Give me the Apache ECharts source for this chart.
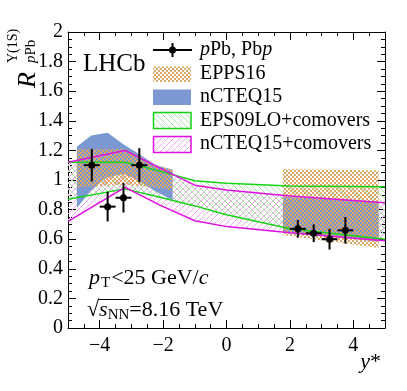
<!DOCTYPE html>
<html>
<head>
<meta charset="utf-8">
<script src="https://cdn.jsdelivr.net/npm/echarts@6/dist/echarts.min.js"></script>
<style>
html, body { margin: 0; padding: 0; background: #fff; }
#main { width: 407px; height: 391px; }
</style>
</head>
<body>
<div id="main"></div>
<script>
// LHCb points: y* bin centre, R_pPb, total error
var dataX = [-4.25, -3.75, -3.25, -2.75, 2.25, 2.75, 3.25, 3.75];
var dataY = [1.10, 0.82, 0.88, 1.10, 0.67, 0.64, 0.60, 0.66];
var dataErr = [0.11, 0.10, 0.10, 0.115, 0.06, 0.06, 0.07, 0.09];
var binHalf = 0.25;

// EPPS16 band
var eppsBwdX = [-4.72, -3.22, -2.75, -2.22, -1.70];
var eppsBwdHi = [1.21, 1.21, 1.16, 1.10, 1.07];
var eppsBwdLo = [0.95, 0.97, 0.96, 0.95, 0.93];
var eppsFwdX = [1.78, 4.80];
var eppsFwdHi = [1.075, 1.065];
var eppsFwdLo = [0.628, 0.54];

// nCTEQ15 band
var ncteqBwdX = [-4.72, -4.27, -3.75, -3.22, -2.80, -2.22, -1.70];
var ncteqBwdHi = [1.225, 1.30, 1.32, 1.236, 1.18, 1.10, 1.07];
var ncteqBwdLo = [0.81, 0.93, 1.02, 1.04, 1.0, 0.92, 0.865];
var ncteqFwdX = [1.78, 4.80];
var ncteqFwdHi = [0.887, 0.853];
var ncteqFwdLo = [0.65, 0.583];

// comover bands
var comX = [-5, -3.2, -2.1, -1.0, 0, 2, 5];
var eps09Hi = [1.12, 1.12, 1.06, 0.995, 0.978, 0.96, 0.955];
var eps09Lo = [0.87, 0.94, 0.883, 0.825, 0.765, 0.67, 0.60];
var ncteqComHi = [1.12, 1.20, 1.08, 0.965, 0.932, 0.892, 0.847];
var ncteqComLo = [0.72, 0.95, 0.83, 0.725, 0.685, 0.644, 0.59];

var xMajor = [-4, -2, 0, 2, 4];

var FONT = 'Liberation Serif';
var BLUE = '#7b98d2';
var GREEN = '#14d314';
var MAGENTA = '#e010e0';

function hatch(color, slash) {
  var c = document.createElement('canvas');
  c.width = 6; c.height = 6;
  var g = c.getContext('2d');
  g.strokeStyle = color;
  g.lineWidth = 1;
  g.beginPath();
  if (slash) {
    g.moveTo(0, 6); g.lineTo(6, 0);
    g.moveTo(-1, 1); g.lineTo(1, -1);
    g.moveTo(5, 7); g.lineTo(7, 5);
  } else {
    g.moveTo(0, 0); g.lineTo(6, 6);
    g.moveTo(-1, 5); g.lineTo(1, 7);
    g.moveTo(5, -1); g.lineTo(7, 1);
  }
  g.stroke();
  return c;
}

function checker(color) {
  var c = document.createElement('canvas');
  c.width = 4; c.height = 4;
  var g = c.getContext('2d');
  g.fillStyle = color;
  g.fillRect(0, 0, 2, 2);
  g.fillRect(2, 2, 2, 2);
  return c;
}

var eppsFill = { image: checker('#dba666'), repeat: 'repeat' };
var greenFill = { image: hatch('#a8e6a8', false), repeat: 'repeat' };
var magentaFill = { image: hatch('#f2a6f2', true), repeat: 'repeat' };

function band(xs, hi, lo, fill, z) {
  return {
    type: 'custom',
    xAxisIndex: 0,
    yAxisIndex: 0,
    silent: true,
    z: z,
    data: [[xs[0], hi[0]]],
    renderItem: function (params, api) {
      var pts = [];
      for (var i = 0; i < xs.length; i++) pts.push(api.coord([xs[i], hi[i]]));
      for (var j = xs.length - 1; j >= 0; j--) pts.push(api.coord([xs[j], lo[j]]));
      return { type: 'polygon', shape: { points: pts }, style: { fill: fill } };
    }
  };
}

function edge(xs, ys, color, z) {
  var d = [];
  for (var i = 0; i < xs.length; i++) d.push([xs[i], ys[i]]);
  return {
    type: 'line',
    xAxisIndex: 0,
    yAxisIndex: 0,
    data: d,
    symbol: 'none',
    silent: true,
    z: z,
    lineStyle: { color: color, width: 1.5 }
  };
}

var points = [];
for (var i = 0; i < dataX.length; i++) points.push([dataX[i], dataY[i], dataErr[i]]);

function tickAxis(pos, minor, labels) {
  var ax = {
    type: 'value',
    position: pos,
    min: -5,
    max: 5,
    splitLine: { show: false },
    axisLine: { show: minor, onZero: false, lineStyle: { color: '#000', width: 1 } },
    axisLabel: { show: false }
  };
  if (minor) {
    ax.interval = 0.5;
    ax.axisTick = { inside: true, length: 4, lineStyle: { color: '#000' } };
  } else {
    ax.axisTick = { inside: true, length: 8, customValues: xMajor, lineStyle: { color: '#000' } };
  }
  if (labels) {
    ax.axisLabel = {
      show: true,
      customValues: xMajor,
      margin: 8,
      color: '#000',
      fontFamily: FONT,
      fontSize: 20,
      formatter: function (v) { return String(v).replace('-', '\u2212'); }
    };
  }
  return ax;
}

function yAxisDef(pos, labels) {
  return {
    type: 'value',
    position: pos,
    min: 0,
    max: 2,
    interval: 0.2,
    splitLine: { show: false },
    axisLine: { show: true, onZero: false, lineStyle: { color: '#000', width: 1 } },
    axisTick: { inside: true, length: 8, lineStyle: { color: '#000' } },
    minorTick: { show: true, splitNumber: 4, length: 4, lineStyle: { color: '#000' } },
    axisLabel: {
      show: labels,
      margin: 5,
      color: '#000',
      fontFamily: FONT,
      fontSize: 20,
      showMinLabel: true,
      showMaxLabel: true
    }
  };
}

var chart = echarts.init(document.getElementById('main'), null, { renderer: 'canvas' });

var legendY = [50, 74, 97, 120.5, 144];
var legendGraphics = [
  { type: 'line', shape: { x1: 153, y1: 50, x2: 192, y2: 50 }, style: { stroke: '#000', lineWidth: 2 } },
  { type: 'line', shape: { x1: 172.5, y1: 43, x2: 172.5, y2: 57 }, style: { stroke: '#000', lineWidth: 2 } },
  { type: 'circle', shape: { cx: 172.5, cy: 50, r: 3.5 }, style: { fill: '#000' } },
  { type: 'rect', shape: { x: 153, y: 66.5, width: 38, height: 15.5 }, style: { fill: eppsFill } },
  { type: 'rect', shape: { x: 153, y: 89.5, width: 38, height: 15.5 }, style: { fill: BLUE } },
  { type: 'rect', shape: { x: 153.5, y: 112.5, width: 37.5, height: 16 }, style: { fill: greenFill, stroke: GREEN, lineWidth: 1.5 } },
  { type: 'rect', shape: { x: 153.5, y: 136.5, width: 37.5, height: 16 }, style: { fill: magentaFill, stroke: MAGENTA, lineWidth: 1.5 } }
];
var legendTexts = ['{i|p}Pb, Pb{i|p}', 'EPPS16', 'nCTEQ15', 'EPS09LO+comovers', 'nCTEQ15+comovers'];
for (var k = 0; k < legendTexts.length; k++) {
  legendGraphics.push({
    type: 'text',
    x: 200,
    y: legendY[k],
    style: {
      text: legendTexts[k],
      font: '20px ' + FONT,
      fill: '#000',
      verticalAlign: 'middle',
      rich: { i: { fontStyle: 'italic', fontSize: 20, fontFamily: FONT } }
    }
  });
}

var option = {
  animation: false,
  backgroundColor: '#fff',
  grid: { left: 68, right: 22, top: 32, bottom: 63, containLabel: false },
  xAxis: [
    tickAxis('bottom', true, false),
    tickAxis('bottom', false, true),
    tickAxis('top', true, false),
    tickAxis('top', false, false)
  ],
  yAxis: [yAxisDef('left', true), yAxisDef('right', false)],
  series: [
    band(comX, eps09Hi, eps09Lo, greenFill, 1),
    band(comX, ncteqComHi, ncteqComLo, magentaFill, 1),
    band(ncteqBwdX, ncteqBwdHi, ncteqBwdLo, BLUE, 2),
    band(ncteqFwdX, ncteqFwdHi, ncteqFwdLo, BLUE, 2),
    band(eppsBwdX, eppsBwdHi, eppsBwdLo, eppsFill, 3),
    band(eppsFwdX, eppsFwdHi, eppsFwdLo, eppsFill, 3),
    edge(comX, eps09Hi, GREEN, 4),
    edge(comX, eps09Lo, GREEN, 4),
    edge(comX, ncteqComHi, MAGENTA, 4),
    edge(comX, ncteqComLo, MAGENTA, 4),
    {
      type: 'custom',
      xAxisIndex: 0,
      yAxisIndex: 0,
      z: 5,
      silent: true,
      data: points,
      renderItem: function (params, api) {
        var x = api.value(0), y = api.value(1), e = api.value(2);
        var c = api.coord([x, y]);
        var top = api.coord([x, y + e]);
        var bot = api.coord([x, y - e]);
        var l = api.coord([x - binHalf, y]);
        var r = api.coord([x + binHalf, y]);
        return {
          type: 'group',
          children: [
            { type: 'line', shape: { x1: c[0], y1: top[1], x2: c[0], y2: bot[1] }, style: { stroke: '#000', lineWidth: 2 } },
            { type: 'line', shape: { x1: l[0], y1: c[1], x2: r[0], y2: c[1] }, style: { stroke: '#000', lineWidth: 2 } },
            { type: 'circle', shape: { cx: c[0], cy: c[1], r: 3.5 }, style: { fill: '#000' } }
          ]
        };
      }
    }
  ],
  graphic: [
    // y axis title
    {
      type: 'group',
      x: 28,
      y: 88,
      rotation: Math.PI / 2,
      children: [
        { type: 'text', x: 0, y: 0, style: { text: 'R', font: 'italic 26px ' + FONT, fill: '#000', verticalAlign: 'middle' } },
        { type: 'text', x: 25, y: -15, style: { text: '\u03A5(1S)', font: '14px ' + FONT, fill: '#000', verticalAlign: 'middle' } },
        { type: 'text', x: 25, y: 3, style: { text: '{i|p}Pb', font: '15px ' + FONT, fill: '#000', verticalAlign: 'middle', rich: { i: { fontStyle: 'italic', fontSize: 15, fontFamily: FONT } } } }
      ]
    },
    // x axis title
    { type: 'text', x: 381, y: 362, style: { text: '{i|y}*', font: '22px ' + FONT, fill: '#000', align: 'right', verticalAlign: 'middle', rich: { i: { fontStyle: 'italic', fontSize: 22, fontFamily: FONT } } } },
    { type: 'text', x: 83, y: 64, style: { text: 'LHCb', font: '25px ' + FONT, fill: '#000', verticalAlign: 'middle' } },
    {
      type: 'text', x: 89, y: 278,
      style: {
        text: '{i|p}{s|T}<25 GeV/{i|c}',
        font: '22px ' + FONT, fill: '#000', verticalAlign: 'middle',
        rich: { i: { fontStyle: 'italic', fontSize: 22, fontFamily: FONT }, s: { fontSize: 15, fontFamily: FONT, padding: [10, 1, 0, 1] } }
      }
    },
    {
      type: 'text', x: 87, y: 310,
      style: {
        text: '\u221A{i|s}{s|NN}=8.16 TeV',
        font: '22px ' + FONT, fill: '#000', verticalAlign: 'middle',
        rich: { i: { fontStyle: 'italic', fontSize: 22, fontFamily: FONT }, s: { fontSize: 15, fontFamily: FONT, padding: [10, 0, 0, 0] } }
      }
    },
    { type: 'line', shape: { x1: 98, y1: 299.5, x2: 129, y2: 299.5 }, style: { stroke: '#000', lineWidth: 1 } }
  ].concat(legendGraphics)
};

chart.setOption(option);
</script>
</body>
</html>
